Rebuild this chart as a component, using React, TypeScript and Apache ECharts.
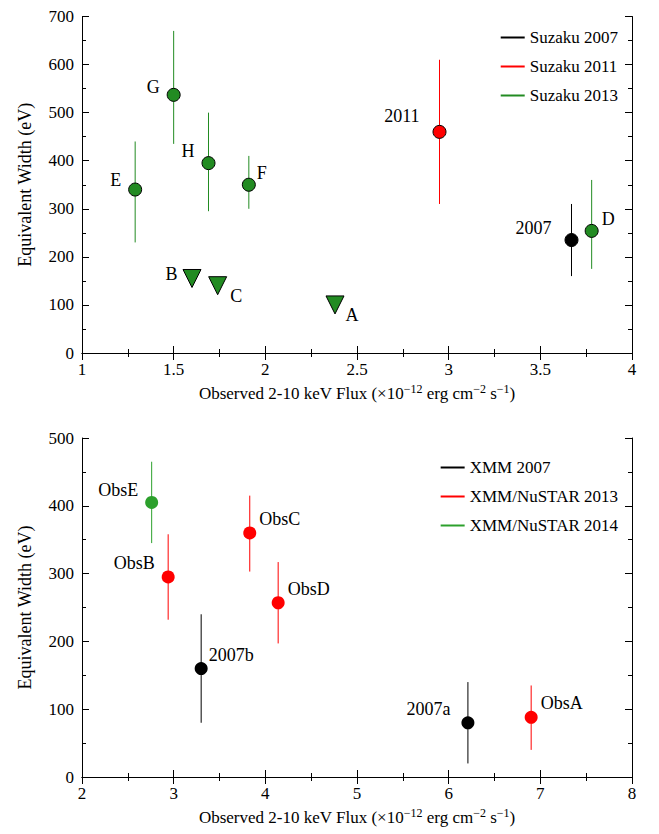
import React, { useEffect, useRef } from "react";
import * as echarts from "echarts";

// top panel: [flux, EW, errLow, errHigh, label]
const suzaku2007 = [[3.67, 235, 160, 310, "2007"]];
const suzaku2011 = [[2.95, 460, 310, 610, "2011"]];
const suzaku2013 = [
  [1.5, 537, 435, 670, "G"],
  [1.29, 340, 230, 440, "E"],
  [1.69, 395, 295, 500, "H"],
  [1.91, 350, 300, 410, "F"],
  [3.78, 254, 175, 360, "D"],
];
const suzakuLimits = [
  [1.6, 155, "B"],
  [1.74, 140, "C"],
  [2.38, 100, "A"],
];

// bottom panel
const xmm2007 = [
  [3.3, 160, 80, 240, "2007b"],
  [6.21, 80, 20, 140, "2007a"],
];
const xmm2013 = [
  [2.94, 295, 232, 358, "ObsB"],
  [3.83, 360, 303, 415, "ObsC"],
  [4.14, 257, 197, 317, "ObsD"],
  [6.9, 88, 40, 135, "ObsA"],
];
const xmm2014 = [[2.76, 405, 345, 465, "ObsE"]];

const labelPos: Record<string, [string, number, number]> = {
  G: ["left", -2, -8], E: ["left", -2, -10], H: ["left", -2, -12], F: ["right", -4, -12],
  D: ["right", -2, -12], "2011": ["left", -8, -16], "2007": ["left", -8, -12],
  B: ["left", 0, -4], C: ["right", -2, 10], A: ["right", -4, 10],
  ObsE: ["left", -2, -12], ObsB: ["left", -2, -14], ObsC: ["right", -2, -14],
  ObsD: ["right", -2, -14], "2007b": ["right", -4, -14], "2007a": ["left", -6, -14],
  ObsA: ["right", -2, -14],
};

const FONT = "Liberation Serif";
const RED = "#ff0000";
const GREEN = "#228b22";
const GREEN2 = "#2ca02c";

function errBars(name: string, data: any[], color: string, gi: number) {
  return {
    name, type: "custom", xAxisIndex: gi * 2, yAxisIndex: gi * 2, z: 1,
    itemStyle: { color },
    data: data.map((d) => [d[0], d[2], d[3]]),
    renderItem: (_p: any, api: any) => {
      const a = api.coord([api.value(0), api.value(1)]);
      const b = api.coord([api.value(0), api.value(2)]);
      return { type: "line", shape: { x1: a[0], y1: a[1], x2: b[0], y2: b[1] }, style: { stroke: color, lineWidth: 1 } };
    },
  };
}

function pts(name: string, data: any[], color: string, gi: number, border: boolean, symbol = "circle", size = 13) {
  return {
    name, type: "scatter", xAxisIndex: gi * 2, yAxisIndex: gi * 2, z: 3, symbol, symbolSize: size,
    itemStyle: { color, opacity: 1, borderColor: "#000", borderWidth: border ? 1 : 0 },
    data: data.map((d) => {
      const lbl = d[d.length - 1];
      const p = labelPos[lbl];
      return {
        value: [d[0], d[1]],
        label: { show: true, formatter: lbl, position: p[0], offset: [p[1], p[2]], color: "#000", fontFamily: FONT, fontSize: 18 },
      };
    }),
  };
}

function axes(gi: number, min: number, max: number, interval: number, ymax: number) {
  const tick = { inside: true, length: 7, lineStyle: { color: "#000" } };
  const minor = { show: true, splitNumber: 2, length: 4, lineStyle: { color: "#000" } };
  const line = { lineStyle: { color: "#000" } };
  const lab = { color: "#000", fontFamily: FONT, fontSize: 17 };
  const xname = {
    name: "{n|Observed 2-10 keV Flux (×10}{s|−12}{n| erg cm}{s|−2}{n| s}{s|−1}{n|)}",
    nameLocation: "middle", nameGap: 30,
    nameTextStyle: { rich: { n: { fontFamily: FONT, fontSize: 17, color: "#000" }, s: { fontFamily: FONT, fontSize: 12, color: "#000", verticalAlign: "top", padding: [0, 0, 8, 0] } } },
  };
  const xA = [
    { type: "value", gridIndex: gi, min, max, interval, axisTick: tick, minorTick: minor, axisLine: line, axisLabel: { ...lab, margin: 8 }, splitLine: { show: false }, ...xname },
    { type: "value", gridIndex: gi, position: "top", min, max, interval, axisTick: tick, minorTick: minor, axisLine: line, axisLabel: { show: false }, splitLine: { show: false } },
  ];
  const yA = [
    { type: "value", gridIndex: gi, min: 0, max: ymax, interval: 100, axisTick: tick, minorTick: minor, axisLine: line, axisLabel: lab, splitLine: { show: false }, name: "Equivalent Width (eV)", nameLocation: "middle", nameGap: 48, nameTextStyle: { fontFamily: FONT, fontSize: 18, color: "#000" } },
    { type: "value", gridIndex: gi, position: "right", min: 0, max: ymax, interval: 100, axisTick: tick, minorTick: minor, axisLine: line, axisLabel: { show: false }, splitLine: { show: false } },
  ];
  return { xA, yA };
}

const App: React.FC = () => {
  const ref = useRef<HTMLDivElement>(null);
  useEffect(() => {
    if (!ref.current) return;
    const chart = echarts.init(ref.current, undefined, { renderer: "svg" });
    const t = axes(0, 1, 4, 0.5, 700);
    const b = axes(1, 2, 8, 1, 500);
    const legendBase = {
      orient: "vertical", icon: "rect", itemWidth: 24, itemHeight: 2, itemGap: 12,
      textStyle: { fontFamily: FONT, fontSize: 17, color: "#000" },
    };
    chart.setOption({
      animation: false,
      grid: [
        { left: 69, right: 27, top: 2, height: 343 },
        { left: 69, right: 27, top: 430, height: 339 },
      ],
      xAxis: [...t.xA, ...b.xA],
      yAxis: [...t.yA, ...b.yA],
      legend: [
        { ...legendBase, right: 36, top: 16, data: ["Suzaku 2007", "Suzaku 2011", "Suzaku 2013"] },
        { ...legendBase, right: 36, top: 446, data: ["XMM 2007", "XMM/NuSTAR 2013", "XMM/NuSTAR 2014"] },
      ],
      series: [
        errBars("Suzaku 2007", suzaku2007, "#000", 0),
        errBars("Suzaku 2011", suzaku2011, RED, 0),
        errBars("Suzaku 2013", suzaku2013, GREEN, 0),
        pts("Suzaku 2007", suzaku2007, "#000", 0, true),
        pts("Suzaku 2011", suzaku2011, RED, 0, true),
        pts("Suzaku 2013", suzaku2013, GREEN, 0, true),
        pts("Suzaku 2013", suzakuLimits, GREEN, 0, true, "path://M0,0L20,0L10,17Z", 18),
        errBars("XMM 2007", xmm2007, "#000", 1),
        errBars("XMM/NuSTAR 2013", xmm2013, RED, 1),
        errBars("XMM/NuSTAR 2014", xmm2014, GREEN2, 1),
        pts("XMM 2007", xmm2007, "#000", 1, false),
        pts("XMM/NuSTAR 2013", xmm2013, RED, 1, false),
        pts("XMM/NuSTAR 2014", xmm2014, GREEN2, 1, false),
      ],
    });
    return () => chart.dispose();
  }, []);
  return <div ref={ref} style={{ width: 651, height: 826 }} />;
};

export default App;
